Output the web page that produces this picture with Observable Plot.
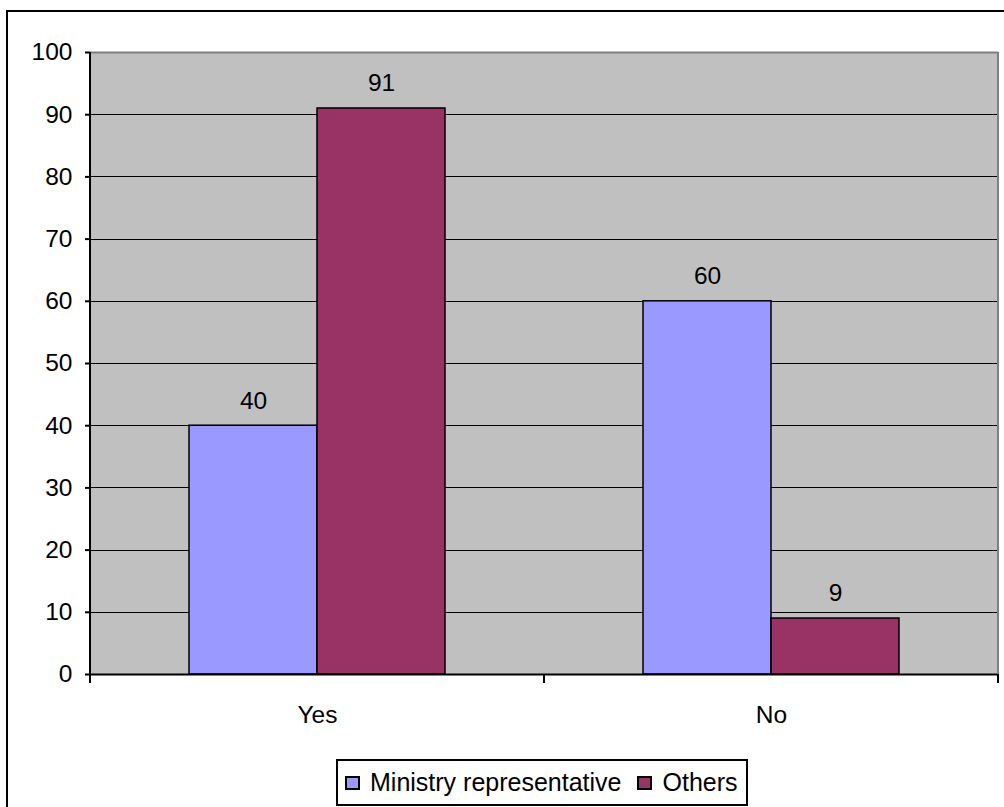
<!DOCTYPE html>
<html>
<head>
<meta charset="utf-8">
<script src="https://cdn.jsdelivr.net/npm/d3@7"></script>
<script src="https://cdn.jsdelivr.net/npm/@observablehq/plot@0.6"></script>
<style>
  body { margin: 0; background: #fff; font-family: "Liberation Sans", Arial, sans-serif; }
  #wrap { position: relative; width: 1004px; height: 807px; overflow: hidden; }
  #border { position: absolute; left: 6px; top: 10px; width: 1020px; height: 820px; border: 2px solid #000; box-sizing: border-box; }
  #chart { position: absolute; left: 0; top: 0; }
  #legend { position: absolute; left: 336px; top: 759px; width: 412px; height: 47px; border: 2px solid #000; box-sizing: border-box;
            display: flex; align-items: center; padding-left: 7px; font-size: 25px; color: #000; background: #fff; }
  .sw { width: 15px; height: 14px; border: 2px solid #000; box-sizing: border-box; margin-right: 10px; flex: none; }
  .item { display: flex; align-items: center; margin-right: 16px; white-space: nowrap; }
</style>
</head>
<body>
<div id="wrap">
  <div id="border"></div>
  <div id="chart"></div>
  <div id="legend"></div>
</div>
<script>
// Survey answers by respondent group (percent)
const categories = ["Yes", "No"];
const series = ["Ministry representative", "Others"];
const ministry = [40, 60];
const others = [91, 9];
const colors = ["#9999FF", "#993366"];
const yTicks = [0, 10, 20, 30, 40, 50, 60, 70, 80, 90, 100];

const rows = categories.flatMap((c, i) => [
  {category: c, series: series[0], value: ministry[i]},
  {category: c, series: series[1], value: others[i]}
]);

const plot = Plot.plot({
  width: 1004,
  height: 740,
  marginLeft: 90,
  marginRight: 6,
  marginTop: 52,
  marginBottom: 66,
  style: {fontFamily: "'Liberation Sans', Arial, sans-serif", fontSize: "24.5px", color: "#000", background: "transparent", overflow: "visible"},
  fx: {domain: categories, padding: 0, axis: "bottom", tickSize: 0, tickPadding: 31, label: null},
  x: {domain: series, paddingInner: 0, paddingOuter: 0.76, axis: null},
  y: {domain: [0, 100], ticks: yTicks, tickSize: 5, tickPadding: 13, label: null},
  color: {domain: series, range: colors},
  marks: [
    Plot.frame({fill: "#C0C0C0", shapeRendering: "crispEdges"}),
    Plot.ruleY(yTicks.filter(t => t > 0 && t < 100), {stroke: "#000", strokeWidth: 1, shapeRendering: "crispEdges"}),
    Plot.ruleY([100], {stroke: "#808080", strokeWidth: 2}),
    Plot.barY(rows, {fx: "category", x: "series", y: "value", fill: "series", stroke: "#000", strokeWidth: 1.5}),
    Plot.text(rows, {fx: "category", x: "series", y: "value", text: d => String(d.value), dy: -25, fontSize: 24.5, fill: "#000"}),
    Plot.ruleY([0], {stroke: "#000", strokeWidth: 2})
  ]
});

// Axis lines, category boundary ticks and the right edge of the plot area
const fxs = plot.scale("fx");
const ys = plot.scale("y");
const yPos = v => ys.range[0] + (v - ys.domain[0]) / (ys.domain[1] - ys.domain[0]) * (ys.range[1] - ys.range[0]);
const [r0, r1] = fxs.range;
const step = (r1 - r0) / categories.length;
const edges = d3.range(categories.length + 1).map(i => r0 + i * step);
const yBase = yPos(0), yTop = yPos(100);

const svg = d3.select(plot);
svg.selectAll("g[aria-label='y-axis tick'] path, g[aria-label='y-axis'] path").attr("stroke-width", 2);
const g = svg.append("g");
g.append("line").attr("x1", r1).attr("x2", r1).attr("y1", yTop).attr("y2", yBase)
  .attr("stroke", "#808080").attr("stroke-width", 2);
g.selectAll("line.edge").data(edges).join("line").attr("class", "edge")
  .attr("x1", d => d).attr("x2", d => d).attr("y1", yBase).attr("y2", yBase + 9)
  .attr("stroke", "#000").attr("stroke-width", 2);
g.append("line").attr("x1", r0).attr("x2", r0).attr("y1", yTop).attr("y2", yBase + 9)
  .attr("stroke", "#000").attr("stroke-width", 2);

document.getElementById("chart").appendChild(plot);

// Legend
const legend = d3.select("#legend");
series.forEach((s, i) => {
  const item = legend.append("div").attr("class", "item");
  item.append("div").attr("class", "sw").style("background", colors[i]);
  item.append("span").text(s);
});
</script>
</body>
</html>
